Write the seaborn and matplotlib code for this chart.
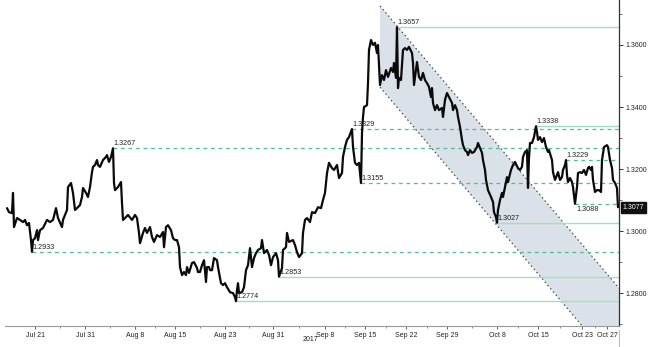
import matplotlib
matplotlib.use("Agg")
import matplotlib.pyplot as plt
import matplotlib.transforms as mtransforms
from matplotlib.ticker import FixedLocator, MultipleLocator, FormatStrFormatter
import seaborn as sns
import pandas as pd

# ---------------- data ----------------
bar = [0, 2, 5, 6, 7, 10, 13, 16, 18, 20, 22, 24, 25, 26, 28, 30, 31, 33, 36, 40,
       43, 46, 49, 51, 55, 56, 60, 61, 64, 66, 68, 70, 73, 75, 76, 79, 81, 83, 85, 86,
       88, 90, 91, 93, 96, 99, 100, 102, 104, 106, 107, 108, 111, 114, 115, 116, 118, 121, 125, 128,
       130, 132, 133, 136, 138, 140, 143, 145, 147, 150, 153, 156, 157, 159, 161, 164, 166, 168, 170, 172,
       173, 175, 177, 179, 180, 182, 185, 187, 190, 191, 193, 195, 197, 199, 200, 202, 203, 205, 207, 210,
       211, 214, 216, 218, 220, 223, 226, 228, 229, 230, 231, 232, 235, 237, 239, 241, 243, 245, 247, 249,
       251, 254, 255, 257, 260, 262, 264, 266, 269, 271, 272, 275, 276, 279, 280, 282, 286, 288, 290, 292,
       295, 296, 298, 300, 303, 305, 308, 311, 314, 316, 318, 320, 322, 325, 327, 330, 332, 335, 336, 338,
       340, 342, 345, 346, 348, 350, 352, 354, 355, 356, 357, 360, 361, 362, 364, 366, 368, 370, 371, 373,
       375, 377, 379, 381, 384, 386, 387, 389, 390, 391, 392, 394, 396, 398, 400, 402, 405, 406, 407, 409,
       410, 412, 414, 416, 418, 420, 422, 424, 425, 426, 428, 430, 432, 435, 436, 438, 440, 442, 445, 446,
       448, 450, 451, 453, 455, 456, 458, 460, 461, 463, 465, 467, 470, 471, 473, 475, 476, 478, 479, 481,
       484, 486, 487, 489, 490, 491, 493, 495, 496, 498, 500, 501, 504, 506, 508, 511, 513, 515, 516, 518,
       520, 521, 522, 523, 525, 527, 529, 530, 531, 533, 535, 537, 539, 541, 542, 544, 545, 546, 548, 550,
       551, 553, 555, 556, 558, 559, 560, 561, 563, 565, 566, 568, 570, 571, 573, 575, 577, 579, 581, 582,
       584, 585, 586, 588, 590, 592, 594, 595, 597, 600, 601, 603, 605, 606, 608, 610, 611]

close = [1.3074, 1.3061, 1.3058, 1.3123, 1.3013, 1.3042, 1.3036, 1.3029, 1.3036, 1.3019, 1.3026, 1.2971, 1.2933, 1.2971, 1.2977, 1.3003, 1.2971, 1.3003, 1.3010, 1.3036,
         1.3029, 1.3036, 1.3074, 1.3042, 1.3013, 1.3036, 1.3068, 1.3142, 1.3155, 1.3123, 1.3068, 1.3074, 1.3084, 1.3110, 1.3139, 1.3123, 1.3110, 1.3142, 1.3190, 1.3207,
         1.3213, 1.3229, 1.3213, 1.3207, 1.3229, 1.3239, 1.3245, 1.3223, 1.3239, 1.3267, 1.3155, 1.3132, 1.3142, 1.3158, 1.3090, 1.3036, 1.3042, 1.3052, 1.3036, 1.3052,
         1.3042, 1.2994, 1.2961, 1.2994, 1.3010, 1.2994, 1.3013, 1.2981, 1.2965, 1.2987, 1.2981, 1.2997, 1.2948, 1.3013, 1.3019, 1.3003, 1.2977, 1.2971, 1.2971, 1.2948,
         1.2884, 1.2858, 1.2868, 1.2858, 1.2884, 1.2865, 1.2897, 1.2900, 1.2881, 1.2868, 1.2868, 1.2890, 1.2906, 1.2836, 1.2884, 1.2884, 1.2874, 1.2874, 1.2913, 1.2906,
         1.2884, 1.2832, 1.2826, 1.2832, 1.2819, 1.2803, 1.2800, 1.2787, 1.2774, 1.2810, 1.2832, 1.2800, 1.2803, 1.2819, 1.2874, 1.2890, 1.2945, 1.2884, 1.2913, 1.2929,
         1.2939, 1.2945, 1.2971, 1.2929, 1.2939, 1.2923, 1.2890, 1.2916, 1.2929, 1.2906, 1.2853, 1.2881, 1.2939, 1.2948, 1.2994, 1.2965, 1.2971, 1.2955, 1.2932, 1.2916,
         1.2929, 1.2994, 1.3036, 1.3042, 1.3029, 1.3061, 1.3058, 1.3077, 1.3074, 1.3100, 1.3123, 1.3187, 1.3220, 1.3203, 1.3197, 1.3213, 1.3171, 1.3187, 1.3239, 1.3271,
         1.3294, 1.3303, 1.3329, 1.3271, 1.3220, 1.3213, 1.3220, 1.3155, 1.3316, 1.3368, 1.3400, 1.3406, 1.3477, 1.3584, 1.3616, 1.3600, 1.3607, 1.3574, 1.3600, 1.3471,
         1.3503, 1.3487, 1.3519, 1.3497, 1.3526, 1.3513, 1.3542, 1.3494, 1.3657, 1.3461, 1.3494, 1.3487, 1.3584, 1.3590, 1.3584, 1.3594, 1.3574, 1.3542, 1.3471, 1.3519,
         1.3545, 1.3497, 1.3487, 1.3510, 1.3487, 1.3477, 1.3465, 1.3432, 1.3461, 1.3413, 1.3390, 1.3406, 1.3390, 1.3397, 1.3368, 1.3423, 1.3445, 1.3432, 1.3413, 1.3390,
         1.3406, 1.3390, 1.3368, 1.3336, 1.3294, 1.3277, 1.3261, 1.3255, 1.3245, 1.3261, 1.3252, 1.3255, 1.3271, 1.3284, 1.3268, 1.3252, 1.3229, 1.3197, 1.3165, 1.3132,
         1.3110, 1.3094, 1.3061, 1.3045, 1.3027, 1.3068, 1.3100, 1.3123, 1.3110, 1.3142, 1.3174, 1.3158, 1.3197, 1.3213, 1.3223, 1.3203, 1.3197, 1.3207, 1.3239, 1.3255,
         1.3261, 1.3139, 1.3236, 1.3284, 1.3284, 1.3303, 1.3338, 1.3319, 1.3294, 1.3303, 1.3287, 1.3300, 1.3271, 1.3255, 1.3261, 1.3239, 1.3229, 1.3190, 1.3165, 1.3181,
         1.3190, 1.3165, 1.3174, 1.3197, 1.3213, 1.3229, 1.3181, 1.3158, 1.3171, 1.3158, 1.3142, 1.3088, 1.3142, 1.3187, 1.3190, 1.3187, 1.3197, 1.3181, 1.3203, 1.3207,
         1.3197, 1.3207, 1.3165, 1.3126, 1.3132, 1.3132, 1.3126, 1.3229, 1.3271, 1.3277, 1.3271, 1.3229, 1.3203, 1.3165, 1.3155, 1.3139, 1.3077]

# key levels
levels = [1.3657, 1.3338, 1.3329, 1.3267, 1.3229, 1.3155, 1.3088, 1.3027, 1.2933, 1.2853, 1.2774]
level_start = [390, 529, 345, 106, 559, 354, 568, 490, 25, 272, 229]
level_kind = ["solid", "solid", "dash", "dash", "dash", "dash", "dash", "solid", "dash", "solid", "solid"]
level_text_below = [False, False, False, False, False, False, True, False, False, False, False]

# x-axis labels
tick_bars = [28, 78, 128, 168, 218, 266, 318, 358, 399, 440, 490, 531, 575, 600]
tick_labels = ["Jul 21", "Jul 31", "Aug 8", "Aug 15", "Aug 23", "Aug 31", "Sep 8",
               "Sep 15", "Sep 22", "Sep 29", "Oct 8", "Oct 15", "Oct 23", "Oct 27"]
year_bar = 303
year_label = "2017"

# descending channel
chan_bars = [373, 612]
chan_upper = [1.3726, 1.2816]
chan_width = 0.0262

last_price = 1.3077

# ---------------- plot ----------------
sns.set_style("white")
plt.rcParams["font.family"] = ["Liberation Sans", "DejaVu Sans"]

W, H = 656, 347
fig = plt.figure(figsize=(W / 100, H / 100), dpi=100)
ax = fig.add_axes([5 / W, 21 / H, 614 / W, 326 / H])

XMIN, XMAX = -2, 612
YMIN, YMAX = 1.2694, 1.3745

# channel fill
chan_lower = [u - chan_width for u in chan_upper]
ax.fill_between(chan_bars, chan_lower, chan_upper, color="#dae1e8", lw=0, zorder=1)
ax.plot(chan_bars, chan_upper, color="#4a4f55", lw=0.9, ls=(0, (1.2, 2.2)), zorder=2)
ax.plot(chan_bars, chan_lower, color="#4a4f55", lw=0.9, ls=(0, (1.2, 2.2)), zorder=2)

# horizontal levels
for lv, st, kind, below in zip(levels, level_start, level_kind, level_text_below):
    if kind == "solid":
        ax.hlines(lv, st, XMAX, color="#a5dcc4", lw=1.0, zorder=2)
    else:
        ax.hlines(lv, st, XMAX, color="#4cbf97", lw=0.9, linestyles=(0, (3, 3)), zorder=2)
    if below:
        ax.text(st + 1, lv - 0.0006, f"{lv:.4f}", ha="left", va="top",
                fontsize=5.2, color="#222222", zorder=5)
    else:
        ax.text(st, lv + 0.0003, f"{lv:.4f}", ha="left", va="bottom",
                fontsize=5.2, color="#222222", zorder=5)

# price line
df = pd.DataFrame({"bar": bar, "close": close})
sns.lineplot(data=df, x="bar", y="close", ax=ax, color="#0a0a0a", lw=1.6,
             zorder=4, estimator=None, sort=False)

ax.set_xlim(XMIN, XMAX)
ax.set_ylim(YMIN, YMAX)
ax.set_xlabel("")
ax.set_ylabel("")

# spines
for s in ["top", "left"]:
    ax.spines[s].set_visible(False)
ax.spines["right"].set_color("#333333")
ax.spines["right"].set_linewidth(0.9)
ax.spines["bottom"].set_color("#9a9a9a")
ax.spines["bottom"].set_linewidth(0.8)

# y axis on right
ax.yaxis.tick_right()
ax.yaxis.set_major_locator(MultipleLocator(0.02))
ax.yaxis.set_minor_locator(MultipleLocator(0.01))
ax.yaxis.set_major_formatter(FormatStrFormatter("%.4f"))
ax.tick_params(axis="y", which="major", direction="out", length=3, width=0.7,
               colors="#333333", labelsize=5.0, pad=1.5, right=True, left=False)
ax.tick_params(axis="y", which="minor", direction="out", length=2, width=0.6,
               colors="#555555", right=True, left=False)

# x axis
ax.xaxis.set_major_locator(FixedLocator(tick_bars))
ax.set_xticklabels(tick_labels)
minor = []
for a, b in zip(tick_bars[:-1], tick_bars[1:]):
    minor.append((a + b) / 2.0)
ax.xaxis.set_minor_locator(FixedLocator(minor))
ax.tick_params(axis="x", which="major", direction="out", length=2.5, width=0.6,
               colors="#444444", labelsize=5.0, pad=1.5, bottom=True)
ax.tick_params(axis="x", which="minor", direction="out", length=1.5, width=0.5,
               colors="#666666", bottom=True)
for lab in ax.get_xticklabels():
    lab.set_color("#222222")
for lab in ax.get_yticklabels():
    lab.set_color("#222222")

# year label
ax.text(year_bar, -0.04, year_label, transform=mtransforms.blended_transform_factory(ax.transData, ax.transAxes),
        ha="center", va="center", fontsize=5.0, color="#222222", clip_on=False)

# separator under right edge
ax.axvline(XMAX, ymin=-0.065, ymax=-0.012, color="#bdbdbd", lw=0.8, clip_on=False)

# last price tag
trans = mtransforms.blended_transform_factory(ax.transAxes, ax.transData)
ax.text(1.006, last_price, f"{last_price:.4f}", transform=trans, ha="left", va="center",
        fontsize=5.0, color="white", clip_on=False, zorder=10,
        bbox=dict(boxstyle="square,pad=0.3", fc="#111111", ec="#111111"))

fig.savefig("out.png", dpi=100)
